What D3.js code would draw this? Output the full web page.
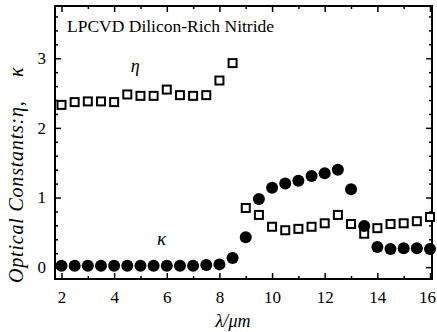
<!DOCTYPE html>
<html>
<head>
<meta charset="utf-8">
<script src="https://cdn.jsdelivr.net/npm/d3@7"></script>
<style>
  body { margin: 0; background: #fff; }
  svg text { font-family: "Liberation Serif", "DejaVu Serif", serif; fill: #000; }
</style>
</head>
<body>
<div id="app"></div>
<script>
// ---------- Data ----------
const wavelengths = [2, 2.5, 3, 3.5, 4, 4.5, 5, 5.5, 6, 6.5, 7, 7.5, 8, 8.5,
                     9, 9.5, 10, 10.5, 11, 11.5, 12, 12.5, 13, 13.5, 14, 14.5, 15, 15.5, 16];
const etaValues = [2.33, 2.37, 2.38, 2.38, 2.37, 2.48, 2.46, 2.46, 2.55, 2.47, 2.46, 2.47, 2.68, 2.93,
                   0.85, 0.75, 0.58, 0.53, 0.55, 0.58, 0.63, 0.75, 0.62, 0.48, 0.56, 0.62, 0.63, 0.66, 0.72];
const kappaValues = [0.02, 0.02, 0.02, 0.02, 0.02, 0.02, 0.02, 0.02, 0.02, 0.02, 0.02, 0.03, 0.04, 0.13,
                     0.43, 0.98, 1.14, 1.20, 1.24, 1.31, 1.35, 1.40, 1.12, 0.59, 0.29, 0.26, 0.27, 0.27, 0.26];
const xTicks = [2, 4, 6, 8, 10, 12, 14, 16];
const xMinorTicks = [3, 5, 7, 9, 11, 13, 15];
const yTicks = [0, 1, 2, 3];
const yMinorTicks = [0.2, 0.4, 0.6, 0.8, 1.2, 1.4, 1.6, 1.8, 2.2, 2.4, 2.6, 2.8, 3.2, 3.4, 3.6];

// ---------- Layout ----------
const WIDTH = 437, HEIGHT = 332;
const LEFT = 55, RIGHT = 432, TOP = 6, BOTTOM = 279;

const svg = d3.select("#app").append("svg")
  .attr("width", WIDTH)
  .attr("height", HEIGHT);

const x = d3.scaleLinear().domain([1.753, 16.076]).range([LEFT, RIGHT]);
const y = d3.scaleLinear().domain([-0.17, 3.75]).range([BOTTOM, TOP]);

// ---------- Axes (ticks point inward) ----------
function styleAxis(g) {
  g.select(".domain").remove();
  g.selectAll("line").attr("stroke", "#000").attr("stroke-width", 1.5);
  g.selectAll("text").style("font-size", "17px").attr("fill", "#000");
}

const xAxis = svg.append("g")
  .attr("transform", `translate(0,${BOTTOM})`)
  .call(d3.axisBottom(x).tickValues(xTicks).tickSizeInner(-6).tickSizeOuter(0).tickPadding(12).tickFormat(d3.format("d")))
  .call(styleAxis);
// keep the last label inside the picture, as in the reference
xAxis.selectAll("text").filter(d => d === 16).attr("dx", -3);

svg.append("g")
  .attr("transform", `translate(0,${BOTTOM})`)
  .call(d3.axisBottom(x).tickValues(xMinorTicks).tickSize(-3).tickFormat(""))
  .call(styleAxis);
svg.append("g")
  .attr("transform", `translate(0,${TOP})`)
  .call(d3.axisTop(x).tickValues(xTicks).tickSize(-6).tickFormat(""))
  .call(styleAxis);
svg.append("g")
  .attr("transform", `translate(0,${TOP})`)
  .call(d3.axisTop(x).tickValues(xMinorTicks).tickSize(-3).tickFormat(""))
  .call(styleAxis);

svg.append("g")
  .attr("transform", `translate(${LEFT},0)`)
  .call(d3.axisLeft(y).tickValues(yTicks).tickSizeInner(-6).tickSizeOuter(0).tickPadding(9).tickFormat(d3.format("d")))
  .call(styleAxis);
svg.append("g")
  .attr("transform", `translate(${LEFT},0)`)
  .call(d3.axisLeft(y).tickValues(yMinorTicks).tickSize(-3).tickFormat(""))
  .call(styleAxis);
svg.append("g")
  .attr("transform", `translate(${RIGHT},0)`)
  .call(d3.axisRight(y).tickValues(yTicks).tickSize(-6).tickFormat(""))
  .call(styleAxis);
svg.append("g")
  .attr("transform", `translate(${RIGHT},0)`)
  .call(d3.axisRight(y).tickValues(yMinorTicks).tickSize(-3).tickFormat(""))
  .call(styleAxis);

// frame
svg.append("rect")
  .attr("x", LEFT).attr("y", TOP)
  .attr("width", RIGHT - LEFT).attr("height", BOTTOM - TOP)
  .attr("fill", "none").attr("stroke", "#000").attr("stroke-width", 2);

// ---------- Marks ----------
const SQ = 8;
svg.append("g").selectAll("rect")
  .data(wavelengths.map((w, i) => [w, etaValues[i]]))
  .enter().append("rect")
  .attr("x", d => x(d[0]) - SQ / 2)
  .attr("y", d => y(d[1]) - SQ / 2)
  .attr("width", SQ).attr("height", SQ)
  .attr("fill", "#fff").attr("stroke", "#000").attr("stroke-width", 2);

svg.append("g").selectAll("circle")
  .data(wavelengths.map((w, i) => [w, kappaValues[i]]))
  .enter().append("circle")
  .attr("cx", d => x(d[0]))
  .attr("cy", d => y(d[1]))
  .attr("r", 6)
  .attr("fill", "#000");

// ---------- Labels ----------
svg.append("text")
  .attr("x", 67).attr("y", 32)
  .style("font-size", "17.5px")
  .text("LPCVD Dilicon-Rich Nitride");

svg.append("text")
  .attr("x", x(4.8)).attr("y", y(2.8))
  .attr("text-anchor", "middle")
  .style("font-size", "18px").style("font-style", "italic")
  .text("η");

svg.append("text")
  .attr("x", x(5.8)).attr("y", y(0.32))
  .attr("text-anchor", "middle")
  .style("font-size", "19px").style("font-style", "italic")
  .text("κ");

svg.append("text")
  .attr("x", 233).attr("y", 327)
  .attr("text-anchor", "middle")
  .style("font-size", "18px").style("font-style", "italic")
  .text("λ/μm");

// y-axis label, rotated; the κ sits apart from the rest as in the reference
const yLabel = svg.append("text")
  .attr("transform", `translate(23,283) rotate(-90)`)
  .style("font-size", "20px").style("font-style", "italic")
  .style("letter-spacing", "0.8px");
yLabel.append("tspan").attr("x", 0).text("Optical Constants:η,");
yLabel.append("tspan").attr("x", 206).text("κ");
</script>
</body>
</html>
